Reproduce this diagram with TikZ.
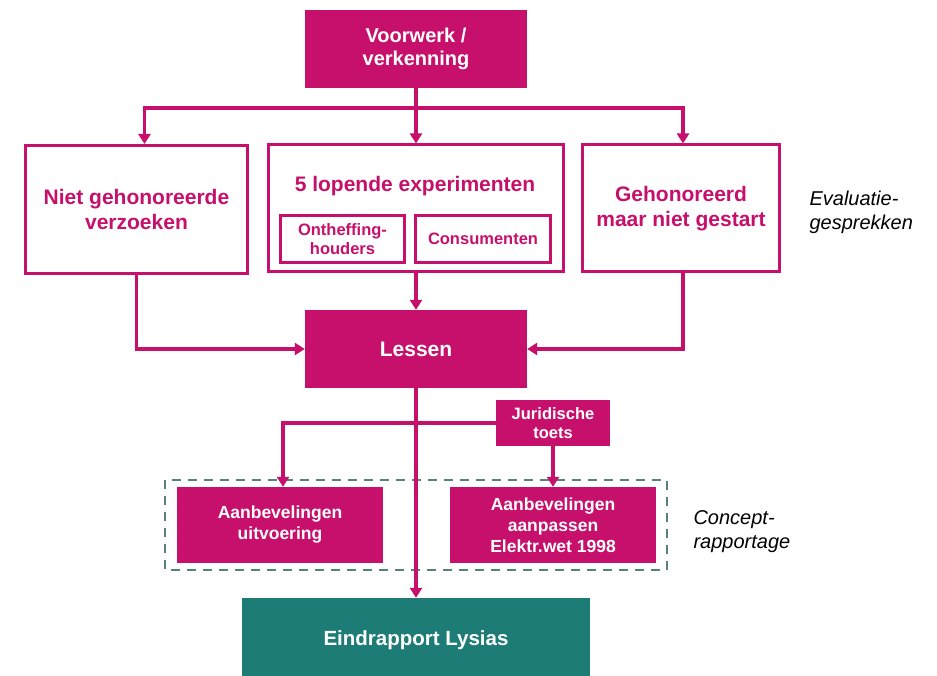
\documentclass[tikz,border=0pt]{standalone}
\usepackage{fontspec}
\setmainfont{Liberation Sans}
\usetikzlibrary{arrows.meta}
\definecolor{mag}{RGB}{198,16,108}
\definecolor{teal2}{RGB}{30,124,119}
\definecolor{dash2}{RGB}{85,130,125}
\newcommand{\fsz}[2]{\fontsize{#1}{#2}\selectfont}
\tikzset{
  fillbox/.style={draw=none,fill=mag,text=white,font=\bfseries,align=center,inner sep=0pt},
  openbox/.style={draw=mag,line width=3pt,fill=white,text=mag,font=\bfseries,align=center,inner sep=0pt},
  innerbox/.style={draw=mag,line width=2.2pt,fill=white,text=mag,font=\bfseries\fsz{16.5}{19.5},align=center,inner sep=0pt},
  conn/.style={draw=mag,line width=3.5pt},
  arr/.style={conn,-{Triangle[length=10pt,width=12pt]}},
  side/.style={font=\itshape\fsz{20}{24},align=left,anchor=west}
}
\begin{document}
\begin{tikzpicture}[x=1pt,y=-1pt]
\useasboundingbox (0,0) rectangle (937,676);
\fill[white] (0,0) rectangle (937,676);

\node[fillbox,minimum width=222pt,minimum height=78pt,font=\bfseries\fsz{20}{23}] (voor) at (416,49) {Voorwerk /\\verkenning};

\node[openbox,minimum width=222pt,minimum height=128pt,font=\bfseries\fsz{21}{25}] (niet) at (136.5,209.5) {Niet gehonoreerde\\verzoeken};
\node[openbox,minimum width=295pt,minimum height=127pt] (exp) at (416,208.5) {};
\node[text=mag,font=\bfseries\fsz{21}{24}] (exptxt) at (415,186) {5 lopende experimenten};
\node[innerbox,minimum width=124pt,minimum height=47pt] (onth) at (342.5,239) {Ontheffing-\\houders};
\node[innerbox,minimum width=135pt,minimum height=47pt] (cons) at (483,239) {Consumenten};
\node[openbox,minimum width=197pt,minimum height=127pt,font=\bfseries\fsz{21}{25}] (geh) at (681,208.5) {Gehonoreerd\\maar niet gestart};
\node[side] (eval) at (806,212) {Evaluatie-\\gesprekken};

\node[fillbox,minimum width=222pt,minimum height=78pt,font=\bfseries\fsz{21}{24}] (lessen) at (416,349) {Lessen};

\node[fillbox,minimum width=114pt,minimum height=46pt,font=\bfseries\fsz{16.5}{19}] (jur) at (553,423) {Juridische\\toets};

\draw[dash2,line width=2.2pt,dash pattern=on 9pt off 7pt] (165,480) rectangle (667,570);
\node[fillbox,minimum width=206pt,minimum height=76pt,font=\bfseries\fsz{17.5}{21}] (aanu) at (280,525) {Aanbevelingen\\uitvoering};
\node[fillbox,minimum width=206pt,minimum height=76pt,font=\bfseries\fsz{17.5}{21}] (aanp) at (553,525) {Aanbevelingen\\aanpassen\\Elektr.wet 1998};
\node[side] (conc) at (690,532) {Concept-\\rapportage};

\node[fillbox,fill=teal2,minimum width=348pt,minimum height=84pt,font=\bfseries\fsz{20.5}{24}] (eind) at (416,640) {Eindrapport Lysias};

\coordinate (hb) at (416,108);
\draw[conn] (voor.south) -- (hb);
\draw[arr] (hb) -| ([xshift=8pt]niet.north);
\draw[arr] (hb) -| ([xshift=2pt]geh.north);
\draw[arr] (hb) -- (exp.north);
\draw[arr] (niet.south) |- (lessen.west);
\draw[arr] ([xshift=2pt]geh.south) |- (lessen.east);
\draw[arr] (exp.south) -- (lessen.north);
\draw[arr] (lessen.south) -- (eind.north);
\draw[arr] (jur.west) -| ([xshift=3pt]aanu.north);
\draw[arr] (jur.south) -- (aanp.north);
\end{tikzpicture}
\end{document}
